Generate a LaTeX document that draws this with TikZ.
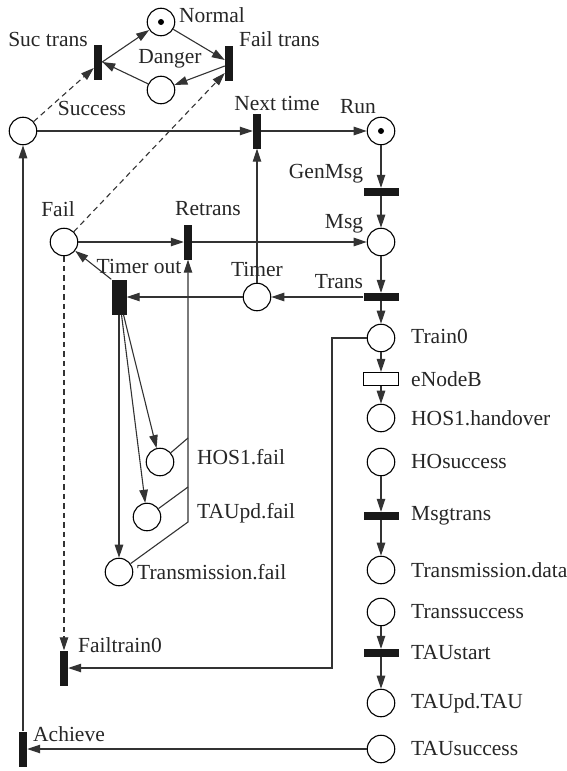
\documentclass[tikz,border=0pt]{standalone}
\usepackage{fontspec}
\setmainfont{Liberation Serif}
\usetikzlibrary{arrows.meta,calc}
\begin{document}
\begin{tikzpicture}[x=1pt,y=-1pt,
  place/.style={circle,draw,line width=1.1pt,minimum size=27.5pt,inner sep=0pt},
  vbar/.style={rectangle,fill=black!90,minimum width=8pt,minimum height=35pt,inner sep=0pt},
  hbar/.style={rectangle,fill=black!90,minimum width=35pt,minimum height=8pt,inner sep=0pt},
  lbl/.style={inner sep=0pt,text=black!85,font=\fontsize{21.5}{25}\selectfont},
  arc/.style={line width=1.1pt,draw=black!80,-{Triangle[length=13pt,width=8.5pt]}},
  plain/.style={line width=1.1pt,draw=black!80},
  dsh/.style={arc,dash pattern=on 5.5pt off 4pt},
  token/.style={circle,fill=black,minimum size=6pt,inner sep=0pt}]
\useasboundingbox (0,0) rectangle (567,771);
% places
\node[place] (normal) at (161,22) {};
\node[token] (normaltok) at (normal.center) {};
\node[place] (danger) at (161,90) {};
\node[place] (success) at (23,131) {};
\node[place] (run) at (381,131) {};
\node[token] (runtok) at (run.center) {};
\node[place] (fail) at (64,242) {};
\node[place] (msg) at (381,242) {};
\node[place] (timer) at (257,297) {};
\node[place] (train0) at (381,338) {};
\node[place] (hos1ho) at (381,418) {};
\node[place] (hosucc) at (381,462) {};
\node[place] (tdata) at (381,570) {};
\node[place] (tsucc) at (381,612) {};
\node[place] (taupd) at (381,703) {};
\node[place] (tausucc) at (381,749) {};
\node[place] (hos1fail) at (160,462) {};
\node[place] (taufail) at (147,517) {};
\node[place] (tfail) at (119,572) {};
% transitions
\node[vbar] (suctrans) at (98,62) {};
\node[vbar] (failtrans) at (229,63) {};
\node[vbar] (nexttime) at (257,131) {};
\node[hbar] (genmsg) at (381,192) {};
\node[vbar] (retrans) at (188,242) {};
\node[hbar] (trans) at (381,297) {};
\node[vbar,minimum width=15pt] (timerout) at (119,297) {};
\node[rectangle,draw,fill=white,line width=1.1pt,minimum width=35pt,minimum height=13pt,inner sep=0pt] (enodeb) at (381,379) {};
\node[hbar] (msgtrans) at (381,516) {};
\node[hbar] (taustart) at (381,653) {};
\node[vbar] (failtrain) at (64,668) {};
\node[vbar] (achieve) at (23,749) {};
% junctions
\coordinate (j1) at (188,438);
\coordinate (j2) at (188,487);
\coordinate (j3) at (188,522);
\coordinate (c1) at (332,338);
\coordinate (c2) at (332,668);
% arcs
\draw[arc] (suctrans.east) -- (normal);
\draw[arc] (normal) -- ($(failtrans.west)+(0,-3)$);
\draw[arc] ($(failtrans.west)+(0,3)$) -- (danger);
\draw[arc] (danger) -- (suctrans.east);
\draw[dsh] (success) -- ($(suctrans.west)+(0,6)$);
\draw[dsh] (fail) -- ($(failtrans.west)+(0,10)$);
\draw[arc] (success) -- (nexttime);
\draw[arc] (nexttime) -- (run);
\draw[arc] (timer) -- (nexttime);
\draw[arc] (run) -- (genmsg);
\draw[arc] (genmsg) -- (msg);
\draw[arc] (fail) -- (retrans);
\draw[arc] (retrans) -- (msg);
\draw[arc] (msg) -- (trans);
\draw[arc] (trans) -- (train0);
\draw[arc] (trans) -- (timer);
\draw[arc] (timer) -- (timerout);
\draw[arc] (timerout.north west) -- (fail);
\draw[arc] ($(timerout.south)+(4.5,0)$) -- (hos1fail);
\draw[arc] ($(timerout.south)+(2.5,0)$) -- (taufail);
\draw[arc] (timerout.south) -- (tfail);
\draw[plain] (hos1fail) -- (j1);
\draw[plain] (taufail) -- (j2);
\draw[arc] (tfail) -- (j3) -- (retrans.south);
\draw[arc] (train0) -- (enodeb);
\draw[arc] (enodeb) -- (hos1ho);
\draw[arc] (hosucc) -- (msgtrans);
\draw[arc] (msgtrans) -- (tdata);
\draw[arc] (tsucc) -- (taustart);
\draw[arc] (taustart) -- (taupd);
\draw[arc] (train0.west) -- (c1) -- (c2) -- (failtrain.east);
\draw[dsh] (fail) -- (failtrain.north);
\draw[arc] (tausucc) -- (achieve);
\draw[arc] (achieve) -- (success);
% labels
\node[lbl,anchor=west] (lnormal) at (179,15) {Normal};
\node[lbl] (lsuctrans) at (48,39) {Suc trans};
\node[lbl,anchor=west] (lfailtrans) at (239,39) {Fail trans};
\node[lbl] (ldanger) at (170,59) {Danger};
\node[lbl] (lsuccess) at (92,108) {Success};
\node[lbl] (lnexttime) at (277,103) {Next time};
\node[lbl] (lrun) at (358,107) {Run};
\node[lbl] (lgenmsg) at (326,174) {GenMsg};
\node[lbl] (lmsg) at (344,224) {Msg};
\node[lbl] (ltimer) at (257,269) {Timer};
\node[lbl] (ltrans) at (339,282) {Trans};
\node[lbl] (lfail) at (58,209) {Fail};
\node[lbl] (lretrans) at (208,209) {Retrans};
\node[lbl] (ltimerout) at (139,266) {Timer out};
\node[lbl,anchor=west] (lhos1fail) at (197,457) {HOS1.fail};
\node[lbl,anchor=west] (ltaufail) at (197,513) {TAUpd.fail};
\node[lbl,anchor=west] (ltfail) at (137,572) {Transmission.fail};
\node[lbl,anchor=west] (lfailtrain) at (78,645) {Failtrain0};
\node[lbl,anchor=west] (lachieve) at (33,734) {Achieve};
\node[lbl,anchor=west] (ltrain0) at (411,336) {Train0};
\node[lbl,anchor=west] (lenodeb) at (411,379) {eNodeB};
\node[lbl,anchor=west] (lhos1ho) at (411,418) {HOS1.handover};
\node[lbl,anchor=west] (lhosucc) at (411,461) {HOsuccess};
\node[lbl,anchor=west] (lmsgtrans) at (411,516) {Msgtrans};
\node[lbl,anchor=west] (ltdata) at (411,570) {Transmission.data};
\node[lbl,anchor=west] (ltsucc) at (411,612) {Transsuccess};
\node[lbl,anchor=west] (ltaustart) at (411,653) {TAUstart};
\node[lbl,anchor=west] (ltaupd) at (411,703) {TAUpd.TAU};
\node[lbl,anchor=west] (ltausucc) at (411,748) {TAUsuccess};
\end{tikzpicture}
\end{document}
